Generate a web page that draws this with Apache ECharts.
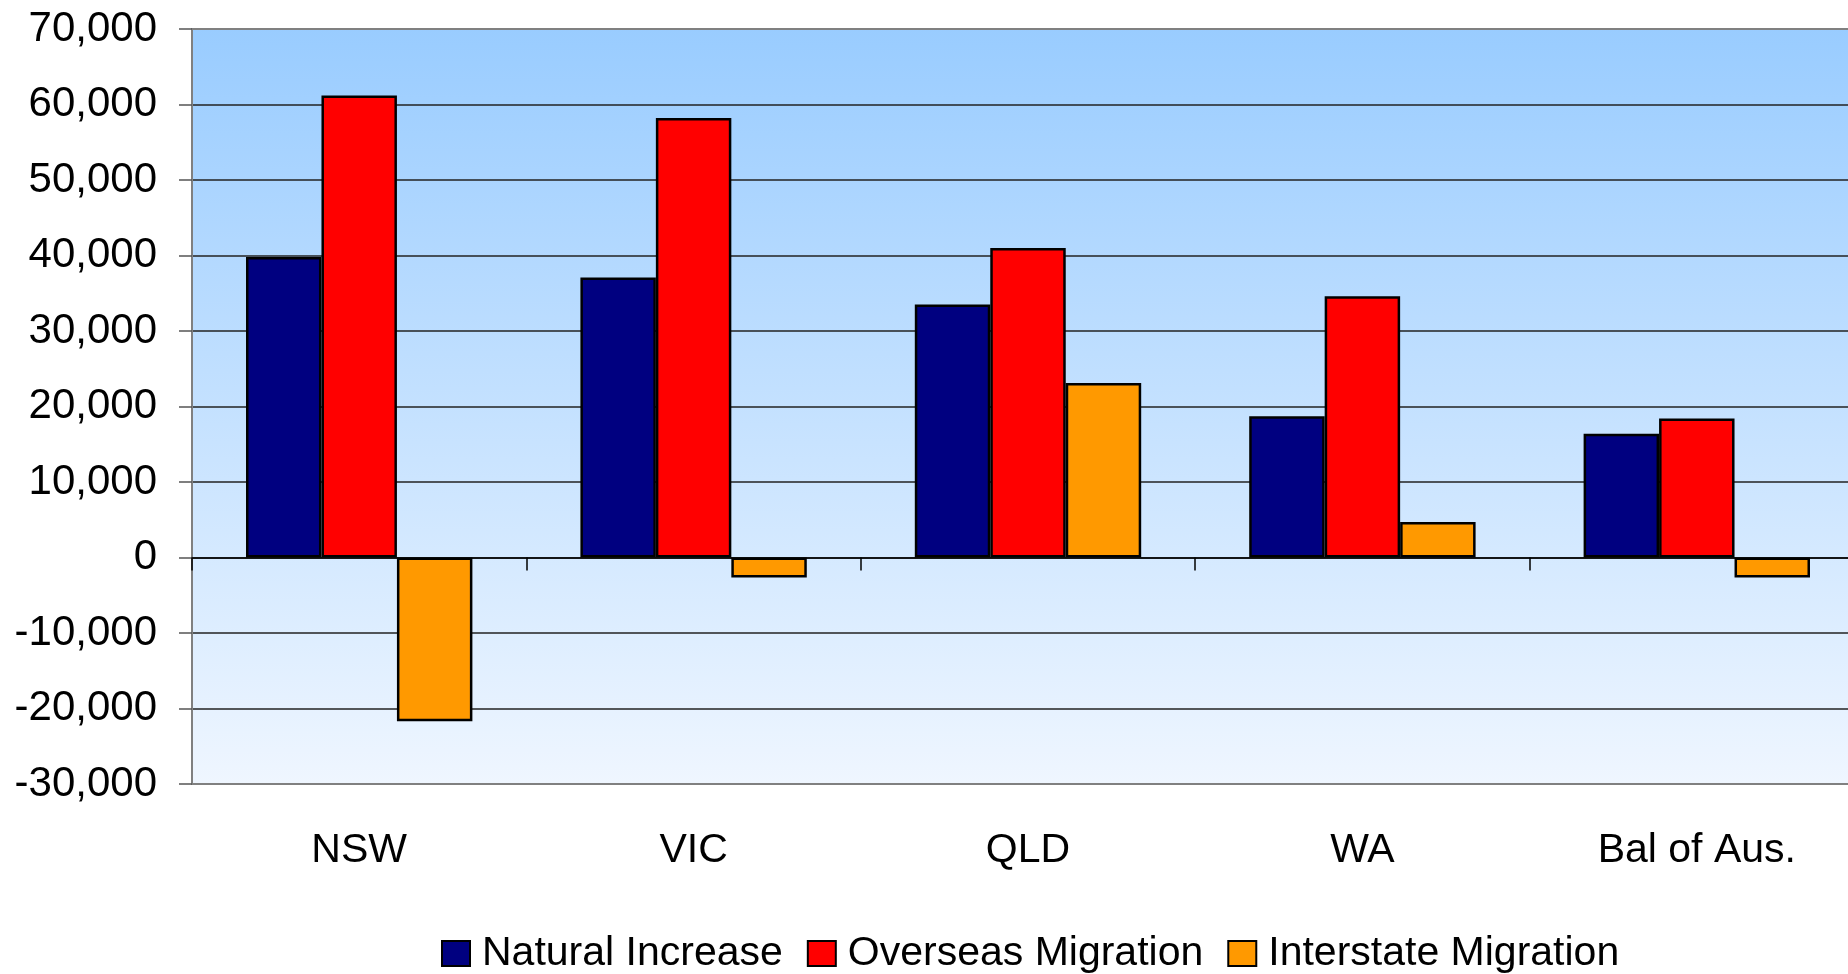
<!DOCTYPE html>
<html>
<head>
<meta charset="utf-8">
<title>Population growth components</title>
<script src="https://cdn.jsdelivr.net/npm/echarts@6/dist/echarts.min.js"></script>
<style>
  html, body { margin: 0; padding: 0; background: #fff; overflow: hidden; }
  /* the plot runs past the right edge of the window, as in the original */
  #chart { width: 1880px; height: 974px; }
</style>
</head>
<body>
<div id="chart"></div>
<script>
// categories and series
const regions = ['NSW', 'VIC', 'QLD', 'WA', 'Bal of Aus.']
const naturalIncrease = [39800, 37100, 33500, 18700, 16400]
const overseasMigration = [61200, 58200, 41000, 34600, 18400]
const interstateMigration = [-21700, -2650, 23100, 4700, -2650]
const seriesNames = ['Natural Increase', 'Overseas Migration', 'Interstate Migration']
const seriesColors = ['#000080', '#ff0000', '#ff9900']

const yMin = -30000
const yMax = 70000
const yStep = 10000

const fontFamily = '"Liberation Sans", Arial, sans-serif'

const chart = echarts.init(document.getElementById('chart'))

const barStyle = (color) => ({
  color: color,
  borderColor: '#000',
  borderWidth: 2.5
})

chart.setOption({
  animation: false,
  textStyle: { fontFamily: fontFamily, color: '#000' },
  legend: {
    data: seriesNames,
    left: 436,
    top: 928,
    itemWidth: 28,
    itemHeight: 25,
    itemGap: 24,
    icon: 'rect',
    textStyle: {
      fontSize: 41,
      color: '#000',
      fontFamily: fontFamily,
      padding: [0, 0, 0, 7]
    }
  },
  grid: {
    left: 192,
    top: 29,
    width: 1672,
    height: 755,
    show: true,
    borderColor: '#808080',
    borderWidth: 2,
    backgroundColor: {
      type: 'linear',
      x: 0, y: 0, x2: 0, y2: 1,
      colorStops: [
        { offset: 0, color: '#99ccff' },
        { offset: 1, color: '#eff6ff' }
      ]
    }
  },
  xAxis: [
    {
      // axis drawn along zero, with the ticks between groups
      type: 'category',
      data: regions,
      axisLine: { onZero: true, lineStyle: { color: '#000', width: 1.5 } },
      axisTick: { show: true, length: 13, lineStyle: { color: '#000', width: 1.5 } },
      axisLabel: { show: false },
      splitLine: { show: false }
    },
    {
      // labels only, kept at the bottom of the plot
      type: 'category',
      data: regions,
      position: 'bottom',
      axisLine: { show: false, onZero: false },
      axisTick: { show: false },
      axisLabel: {
        show: true,
        fontSize: 41,
        color: '#000',
        margin: 46
      },
      splitLine: { show: false }
    }
  ],
  yAxis: {
    type: 'value',
    min: yMin,
    max: yMax,
    interval: yStep,
    axisLine: { show: true, lineStyle: { color: '#808080', width: 2 } },
    axisTick: { show: true, length: 13, lineStyle: { color: '#555', width: 1.5 } },
    axisLabel: {
      fontSize: 42,
      color: '#000',
      margin: 35,
      formatter: (v) => v.toLocaleString('en-US')
    },
    splitLine: {
      show: true,
      showMinLine: false,
      showMaxLine: false,
      lineStyle: { color: '#222', width: 1.5 }
    }
  },
  series: [
    {
      name: seriesNames[0],
      type: 'bar',
      data: naturalIncrease,
      barGap: '0%',
      barCategoryGap: '32.3%',
      itemStyle: barStyle(seriesColors[0])
    },
    {
      name: seriesNames[1],
      type: 'bar',
      data: overseasMigration,
      barGap: '0%',
      barCategoryGap: '32.3%',
      itemStyle: barStyle(seriesColors[1])
    },
    {
      name: seriesNames[2],
      type: 'bar',
      data: interstateMigration,
      barGap: '0%',
      barCategoryGap: '32.3%',
      itemStyle: barStyle(seriesColors[2])
    }
  ]
})
</script>
</body>
</html>
